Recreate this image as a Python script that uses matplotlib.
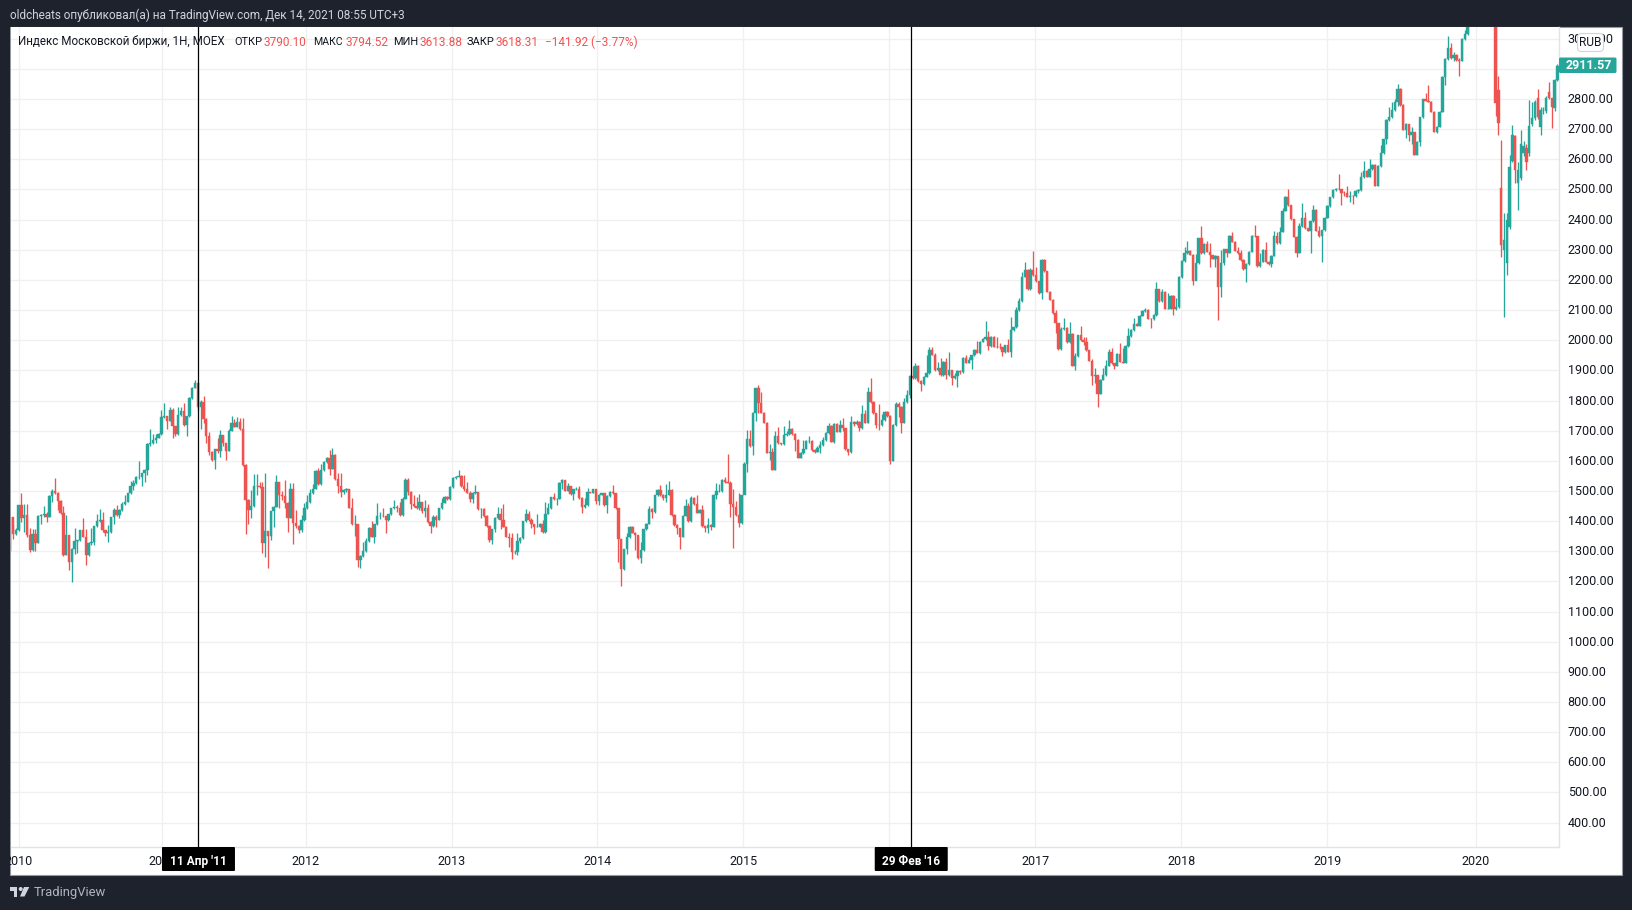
#!/usr/bin/env python3
"""Moscow Exchange index candles, weekly, copied off a TradingView snapshot."""

import matplotlib

matplotlib.use("Agg")

import matplotlib.pyplot as plt
import numpy as np
from matplotlib.patches import Circle, FancyBboxPatch, Polygon, Rectangle
from matplotlib.transforms import Affine2D, ScaledTranslation

WIDTH, HEIGHT = 1633, 910

CLOSES = [
    1414, 1357, 1370, 1453, 1411, 1420, 1354, 1304, 1357, 1326,
    1417, 1420, 1423, 1414, 1483, 1500, 1492, 1467, 1427, 1287,
    1353, 1265, 1309, 1334, 1337, 1370, 1348, 1287, 1328, 1331,
    1383, 1399, 1403, 1370, 1362, 1365, 1412, 1437, 1419, 1437,
    1456, 1464, 1492, 1518, 1525, 1547, 1547, 1558, 1569, 1655,
    1658, 1669, 1677, 1689, 1746, 1748, 1733, 1768, 1715, 1689,
    1752, 1765, 1718, 1748, 1808, 1843, 1857, 1779, 1794, 1739,
    1682, 1630, 1602, 1638, 1633, 1684, 1660, 1634, 1700, 1724, 1713,
    1728, 1704, 1586, 1470, 1436, 1450, 1516, 1518, 1514, 1328,
    1366, 1351, 1433, 1448, 1529, 1486, 1483, 1459, 1411, 1505,
    1394, 1384, 1372, 1403, 1443, 1465, 1492, 1508, 1566, 1523,
    1569, 1596, 1609, 1574, 1620, 1539, 1516, 1497, 1503, 1507,
    1445, 1390, 1392, 1271, 1284, 1301, 1333, 1378, 1348, 1390,
    1417, 1418, 1416, 1403, 1423, 1442, 1446, 1442, 1420, 1475,
    1536, 1497, 1456, 1450, 1443, 1463, 1434, 1443, 1397, 1384,
    1413, 1405, 1442, 1461, 1479, 1473, 1513, 1543, 1547, 1549,
    1518, 1505, 1494, 1472, 1494, 1496, 1440, 1440, 1417, 1384,
    1336, 1373, 1410, 1425, 1403, 1381, 1348, 1345, 1297, 1299,
    1334, 1344, 1399, 1423, 1403, 1390, 1381, 1381, 1392, 1363,
    1425, 1443, 1479, 1472, 1475, 1525, 1537, 1501, 1516, 1489,
    1505, 1505, 1477, 1447, 1452, 1496, 1494, 1505, 1467, 1487,
    1492, 1453, 1483, 1497, 1492, 1444, 1340, 1241, 1306, 1346,
    1381, 1362, 1354, 1277, 1304, 1373, 1392, 1441, 1430, 1486,
    1503, 1486, 1477, 1488, 1503, 1420, 1387, 1376, 1348, 1418,
    1450, 1400, 1477, 1456, 1428, 1437, 1383, 1378, 1386, 1381,
    1488, 1499, 1500, 1538, 1529, 1527, 1456, 1447, 1419, 1394,
    1485, 1591, 1672, 1649, 1757, 1841, 1792, 1759, 1726, 1627,
    1630, 1570, 1682, 1658, 1655, 1685, 1688, 1707, 1689, 1669,
    1610, 1625, 1640, 1665, 1666, 1636, 1630, 1642, 1653,
    1669, 1691, 1716, 1664, 1722, 1697, 1719, 1708, 1638, 1630,
    1729, 1722, 1730, 1708, 1755, 1727, 1828, 1795, 1758, 1719,
    1718, 1735, 1762, 1749, 1600, 1719, 1789, 1780, 1727, 1795,
    1817, 1881, 1874, 1916, 1865, 1855, 1879, 1891, 1968, 1952,
    1901, 1907, 1885, 1929, 1885, 1900, 1874, 1880, 1898, 1895,
    1941, 1926, 1935, 1950, 1968, 1959, 1995, 2004, 2010, 1981,
    2012, 1979, 1978, 1976, 1960, 1983, 1962, 2034, 2043, 2100,
    2129, 2211, 2233, 2170, 2233, 2215, 2195, 2156, 2266, 2228,
    2161, 2134, 2089, 2056, 1970, 2038, 2041, 1994, 2021, 1915,
    1948, 2016, 2001, 1995, 1966, 1932, 1882, 1885, 1822, 1869,
    1885, 1915, 1962, 1924, 1915, 1955, 1929, 1926, 1981, 2014,
    2034, 2054, 2048, 2081, 2096, 2100, 2072, 2070, 2084, 2169,
    2130, 2161, 2104, 2105, 2147, 2103, 2110, 2210, 2263, 2288,
    2296, 2284, 2198, 2255, 2338, 2288, 2319, 2294, 2282, 2271,
    2281, 2175, 2255, 2301, 2290, 2346, 2327, 2297, 2290, 2266,
    2235, 2253, 2294, 2346, 2345, 2246, 2261, 2299, 2260, 2253,
    2281, 2346, 2321, 2360, 2430, 2476, 2448, 2401, 2343, 2290,
    2379, 2404, 2371, 2363, 2395, 2432, 2363, 2346, 2365, 2407,
    2445, 2474, 2498, 2503, 2501, 2489, 2487, 2476, 2480, 2478,
    2495, 2498, 2540, 2561, 2542, 2567, 2582, 2512, 2578, 2620,
    2666, 2730, 2739, 2763, 2790, 2835, 2780, 2699, 2717, 2680,
    2690, 2615, 2658, 2739, 2799, 2794, 2791, 2758, 2692, 2708,
    2758, 2874, 2933, 2971, 2935, 2945, 2929, 2927, 2999, 3016,
    3070, 3060, 3100, 3090, 3130, 3080, 3120, 3160, 3190, 3100,
    2786, 2719, 2316, 2332, 2399, 2575, 2680, 2564, 2564, 2651,
    2644, 2592, 2710, 2736, 2790, 2741, 2763, 2764, 2802, 2802,
    2772, 2863, 2911,
]
HIGHS = [
    1414, 1387, 1376, 1455, 1492, 1456, 1456, 1376, 1373, 1373,
    1420, 1422, 1450, 1430, 1488, 1505, 1543, 1496, 1470, 1450,
    1420, 1353, 1312, 1378, 1339, 1372, 1409, 1373, 1330, 1378,
    1385, 1425, 1440, 1429, 1372, 1387, 1414, 1445, 1453, 1439,
    1463, 1486, 1494, 1534, 1538, 1549, 1599, 1560, 1572, 1658,
    1705, 1689, 1689, 1691, 1768, 1792, 1750, 1779, 1775, 1717,
    1779, 1779, 1792, 1750, 1812, 1845, 1868, 1863, 1801, 1815,
    1741, 1695, 1632, 1640, 1677, 1702, 1686, 1648, 1707, 1748, 1740,
    1746, 1743, 1741, 1590, 1473, 1503, 1556, 1556, 1530, 1530,
    1560, 1366, 1435, 1450, 1553, 1531, 1500, 1536, 1463, 1527,
    1525, 1436, 1386, 1420, 1459, 1486, 1508, 1523, 1568, 1575,
    1591, 1598, 1612, 1635, 1642, 1622, 1558, 1558, 1505, 1510,
    1505, 1476, 1420, 1392, 1286, 1331, 1343, 1380, 1400, 1392,
    1459, 1430, 1445, 1418, 1425, 1444, 1470, 1455, 1464, 1480,
    1543, 1543, 1500, 1486, 1481, 1490, 1465, 1470, 1456, 1400,
    1420, 1420, 1444, 1478, 1483, 1482, 1518, 1545, 1549, 1569,
    1552, 1552, 1530, 1500, 1496, 1519, 1498, 1445, 1442, 1419,
    1386, 1375, 1412, 1447, 1442, 1456, 1383, 1359, 1359, 1304,
    1359, 1346, 1401, 1440, 1434, 1411, 1392, 1425, 1394, 1403,
    1464, 1459, 1481, 1492, 1477, 1530, 1540, 1538, 1525, 1518,
    1507, 1512, 1516, 1480, 1478, 1510, 1498, 1507, 1507, 1489,
    1494, 1494, 1485, 1499, 1519, 1494, 1439, 1340, 1308, 1359,
    1383, 1383, 1364, 1350, 1331, 1375, 1394, 1451, 1443, 1488,
    1505, 1519, 1490, 1523, 1534, 1505, 1422, 1389, 1378, 1420,
    1472, 1459, 1483, 1479, 1486, 1439, 1452, 1385, 1409, 1389,
    1490, 1527, 1523, 1541, 1547, 1624, 1534, 1505, 1467, 1492,
    1487, 1596, 1702, 1702, 1763, 1843, 1851, 1829, 1761, 1728,
    1655, 1641, 1698, 1711, 1660, 1715, 1700, 1735, 1709, 1691,
    1671, 1630, 1668, 1670, 1682, 1668, 1640, 1650, 1665,
    1680, 1695, 1726, 1718, 1727, 1724, 1736, 1741, 1710, 1640,
    1749, 1732, 1736, 1732, 1785, 1769, 1846, 1875, 1797, 1760,
    1789, 1755, 1764, 1765, 1751, 1721, 1796, 1796, 1782, 1807,
    1835, 1885, 1913, 1926, 1918, 1867, 1882, 1951, 1979, 1977,
    1959, 1929, 1940, 1931, 1940, 1960, 1902, 1890, 1900, 1902,
    1943, 1952, 1945, 1952, 1970, 1999, 1999, 2006, 2064, 2029,
    2014, 2013, 2010, 1990, 1978, 1985, 2003, 2076, 2045, 2109,
    2139, 2225, 2260, 2236, 2239, 2296, 2244, 2197, 2268, 2268,
    2230, 2163, 2136, 2100, 2058, 2045, 2073, 2043, 2061, 2023,
    1957, 2018, 2048, 2010, 2012, 1968, 1938, 1907, 1885, 1871,
    1907, 1935, 1972, 1973, 1926, 1957, 1990, 1973, 1983, 2040,
    2036, 2073, 2056, 2084, 2100, 2106, 2102, 2074, 2086, 2193,
    2167, 2169, 2163, 2156, 2149, 2149, 2140, 2212, 2265, 2308,
    2328, 2300, 2286, 2286, 2340, 2379, 2321, 2330, 2321, 2284,
    2283, 2275, 2299, 2303, 2303, 2348, 2358, 2330, 2310, 2300,
    2268, 2255, 2296, 2348, 2382, 2347, 2290, 2301, 2327, 2262,
    2283, 2363, 2360, 2377, 2437, 2478, 2501, 2450, 2403, 2345,
    2390, 2454, 2426, 2373, 2397, 2450, 2434, 2379, 2367, 2409,
    2447, 2476, 2502, 2506, 2553, 2503, 2495, 2510, 2495, 2482,
    2497, 2500, 2559, 2593, 2564, 2600, 2584, 2584, 2580, 2647,
    2668, 2734, 2772, 2791, 2800, 2849, 2837, 2782, 2719, 2710,
    2706, 2692, 2660, 2741, 2801, 2819, 2846, 2793, 2760, 2710,
    2760, 2876, 2935, 3009, 2985, 2955, 2950, 2935, 3001, 3029,
    3090, 3085, 3120, 3110, 3150, 3140, 3140, 3180, 3210, 3200,
    3110, 2876, 2664, 2421, 2421, 2614, 2714, 2680, 2590, 2699,
    2660, 2652, 2797, 2790, 2797, 2835, 2775, 2775, 2810, 2857,
    2805, 2865, 2915,
]
LOWS = [
    1302, 1341, 1355, 1368, 1397, 1365, 1348, 1298, 1300, 1302,
    1326, 1392, 1415, 1397, 1412, 1464, 1490, 1436, 1425, 1284,
    1287, 1237, 1199, 1290, 1293, 1335, 1346, 1254, 1285, 1320,
    1322, 1380, 1397, 1364, 1352, 1331, 1362, 1392, 1417, 1409,
    1434, 1454, 1462, 1490, 1503, 1523, 1540, 1516, 1530, 1553,
    1650, 1656, 1660, 1675, 1686, 1742, 1705, 1731, 1676, 1682,
    1685, 1750, 1716, 1682, 1746, 1806, 1841, 1770, 1707, 1726,
    1660, 1620, 1600, 1574, 1625, 1613, 1650, 1602, 1632, 1698, 1711,
    1711, 1702, 1584, 1357, 1392, 1409, 1448, 1486, 1510, 1293,
    1282, 1245, 1337, 1381, 1446, 1442, 1470, 1442, 1365, 1409,
    1324, 1376, 1361, 1365, 1400, 1441, 1460, 1490, 1506, 1521,
    1521, 1567, 1594, 1552, 1572, 1537, 1492, 1480, 1490, 1498,
    1442, 1387, 1350, 1249, 1245, 1282, 1299, 1331, 1346, 1328,
    1388, 1408, 1414, 1359, 1401, 1421, 1440, 1430, 1418, 1418,
    1473, 1486, 1440, 1448, 1441, 1436, 1428, 1415, 1395, 1361,
    1382, 1381, 1403, 1440, 1459, 1470, 1471, 1511, 1541, 1545,
    1512, 1500, 1492, 1464, 1459, 1490, 1438, 1411, 1415, 1382,
    1331, 1324, 1365, 1408, 1375, 1379, 1346, 1315, 1274, 1290,
    1287, 1326, 1342, 1397, 1401, 1376, 1356, 1379, 1379, 1359,
    1361, 1423, 1441, 1470, 1453, 1473, 1505, 1499, 1500, 1487,
    1470, 1503, 1475, 1427, 1445, 1449, 1492, 1492, 1456, 1453,
    1485, 1451, 1428, 1480, 1490, 1440, 1265, 1184, 1239, 1290,
    1344, 1360, 1304, 1275, 1262, 1302, 1371, 1390, 1409, 1428,
    1484, 1484, 1470, 1464, 1486, 1418, 1385, 1357, 1307, 1346,
    1416, 1398, 1398, 1454, 1426, 1426, 1381, 1364, 1359, 1370,
    1379, 1475, 1497, 1498, 1527, 1525, 1414, 1312, 1417, 1381,
    1392, 1490, 1563, 1647, 1619, 1732, 1757, 1757, 1724, 1625,
    1602, 1568, 1568, 1656, 1653, 1653, 1683, 1686, 1687, 1633,
    1608, 1608, 1622, 1638, 1660, 1634, 1625, 1628, 1625,
    1650, 1666, 1689, 1662, 1660, 1695, 1695, 1700, 1636, 1620,
    1625, 1715, 1718, 1698, 1705, 1725, 1725, 1793, 1756, 1708,
    1703, 1716, 1733, 1745, 1591, 1598, 1717, 1747, 1691, 1725,
    1793, 1809, 1872, 1872, 1863, 1830, 1853, 1877, 1889, 1950,
    1899, 1899, 1883, 1883, 1871, 1883, 1852, 1870, 1846, 1887,
    1890, 1924, 1924, 1905, 1948, 1957, 1955, 1993, 2000, 1968,
    1979, 1977, 1975, 1970, 1949, 1958, 1960, 1943, 2032, 2041,
    2098, 2127, 2209, 2168, 2168, 2213, 2193, 2154, 2138, 2226,
    2159, 2132, 2087, 2025, 1968, 1968, 2035, 1992, 1990, 1913,
    1901, 1946, 1999, 1985, 1964, 1930, 1852, 1857, 1777, 1820,
    1867, 1883, 1913, 1922, 1905, 1913, 1927, 1924, 1924, 1979,
    2012, 2032, 2046, 2046, 2079, 2094, 2070, 2042, 2068, 2082,
    2128, 2128, 2102, 2103, 2103, 2084, 2100, 2108, 2208, 2261,
    2286, 2282, 2183, 2200, 2253, 2286, 2286, 2292, 2244, 2269,
    2244, 2067, 2144, 2250, 2277, 2288, 2325, 2295, 2287, 2264,
    2233, 2194, 2251, 2292, 2343, 2244, 2244, 2259, 2258, 2251,
    2244, 2279, 2319, 2319, 2358, 2428, 2446, 2399, 2341, 2277,
    2288, 2377, 2369, 2361, 2288, 2393, 2361, 2344, 2260, 2363,
    2405, 2443, 2472, 2496, 2499, 2448, 2480, 2474, 2460, 2452,
    2476, 2490, 2496, 2538, 2540, 2540, 2565, 2510, 2510, 2576,
    2618, 2650, 2728, 2737, 2761, 2776, 2778, 2697, 2670, 2660,
    2650, 2613, 2613, 2645, 2737, 2792, 2789, 2756, 2690, 2688,
    2706, 2756, 2846, 2931, 2933, 2925, 2927, 2876, 2925, 2997,
    3014, 3045, 3060, 3070, 3085, 3070, 3075, 3115, 3140, 3090,
    2745, 2680, 2277, 2078, 2216, 2370, 2590, 2520, 2432, 2530,
    2610, 2565, 2610, 2710, 2730, 2735, 2680, 2750, 2755, 2800,
    2705, 2760, 2860,
]
# the weeks around the 2020 gap open away from the previous close
FIRST_OPEN = 1302
LAST_OPENS = [
    3100, 2830, 2504, 2299, 2255, 2376, 2595, 2677, 2522, 2537,
    2620, 2637, 2620, 2717, 2736, 2805, 2706, 2763, 2761, 2825,
    2802, 2770, 2863,
]
FIRST_INDEX = -3  # three December 2009 candles sit left of the 2010 tick

YEARS = [2010, 2011, 2012, 2013, 2014, 2015, 2016, 2017, 2018, 2019, 2020]
YEAR_WEEKS = [0, 51.2, 102.4, 154.6, 206.4, 258.5, 310.6, 362.7, 414.8, 467, 520]
PRICE_TICKS = list(range(400, 3100, 100))
CROSSHAIRS = [(64.2, "11 Апр '11"), (318.5, "29 Фев '16")]
LAST_PRICE = 2911.57

HEADER = "oldcheats опубликовал(а) на TradingView.com, Дек 14, 2021 08:55 UTC+3"
# x pixel, text, colour, size
LEGEND_PARTS = [
    (18, "Индекс Московской биржи, 1H, MOEX", "#131722", 8.4),
    (234, "ОТКР", "#131722", 7.9),
    (264, "3790.10", "#ef5350", 8.5),
    (313, "МАКС", "#131722", 7.6),
    (346, "3794.52", "#ef5350", 8.5),
    (393, "МИН", "#131722", 7.9),
    (420, "3613.88", "#ef5350", 8.5),
    (467, "ЗАКР", "#131722", 7.9),
    (496, "3618.31", "#ef5350", 8.5),
    (545, "−141.92 (−3.77%)", "#ef5350", 8.45),
]

GREEN = "#26a69a"
RED = "#ef5350"
DARK = "#1e222d"
GRID = "#f0f0f1"
AXIS_LINE = "#e0e3eb"
TEXT = "#131722"

plt.rcParams["font.family"] = ["Roboto", "DejaVu Sans"]


def main():
    closes = np.array(CLOSES, dtype=float)
    highs = np.array(HIGHS, dtype=float)
    lows = np.array(LOWS, dtype=float)
    opens = np.r_[FIRST_OPEN, closes[:-1]]
    opens[-len(LAST_OPENS):] = LAST_OPENS
    index = np.arange(len(closes)) + FIRST_INDEX
    colors = [GREEN if c >= o else RED for o, c in zip(opens, closes)]

    fig = plt.figure(figsize=(WIDTH / 100, HEIGHT / 100), dpi=100, facecolor=DARK)
    # screen pixels, y going down, for everything around the plot
    px = Affine2D().scale(1 / WIDTH, -1 / HEIGHT).translate(0, 1) + fig.transFigure

    fig.add_artist(Rectangle((10.5, 26.5), 1611.5, 848.5, transform=px, facecolor="white",
                             edgecolor="#9598a1", linewidth=0.8, zorder=-1))

    ax = fig.add_axes([11 / WIDTH, 1 - 847 / HEIGHT, 1548 / WIDTH, 820 / HEIGHT])
    ax.set_xlim(-2.68, 549.6)
    ax.set_ylim(319, 3039)
    for side in ("left", "top"):
        ax.spines[side].set_visible(False)
    for side in ("right", "bottom"):
        ax.spines[side].set_color(AXIS_LINE)
        ax.spines[side].set_linewidth(1)

    ax.grid(True, color=GRID, linewidth=1)
    ax.set_axisbelow(True)
    ax.yaxis.tick_right()
    ax.set_yticks(PRICE_TICKS)
    ax.set_yticklabels([f"{p:.2f}" for p in PRICE_TICKS])
    ax.set_xticks(YEAR_WEEKS)
    ax.set_xticklabels([str(y) for y in YEARS])
    ax.tick_params(axis="both", length=0, labelsize=9, labelcolor=TEXT)
    ax.tick_params(axis="y", pad=6.3)
    ax.tick_params(axis="x", pad=6)
    up_one_px = ScaledTranslation(0, 1 / 100, fig.dpi_scale_trans)
    for label in ax.get_yticklabels():
        label.set_transform(label.get_transform() + up_one_px)

    ax.vlines(index, lows, highs, colors=colors, linewidth=0.95, zorder=3)
    ax.bar(index, closes - opens, bottom=opens, width=0.85, color=colors,
           edgecolor=colors, linewidth=0.3, zorder=4)

    fig.canvas.draw()
    for x, label in CROSSHAIRS:
        ax.axvline(x, color="black", linewidth=0.9, zorder=5)
        x_px = ax.transData.transform((x, 0))[0]
        fig.add_artist(FancyBboxPatch((x_px - 36.5, 847), 73, 24, transform=px, facecolor="black",
                                      edgecolor="none", zorder=3,
                                      boxstyle="round,pad=0,rounding_size=1"))
        fig.text(x_px / WIDTH, 1 - 861.5 / HEIGHT, label, color="white", fontsize=8.6,
                 fontweight="bold", ha="center", va="center", zorder=4)

    # strip left of the plot hides the clipped part of the 2010 label
    fig.add_artist(Rectangle((0, 27), 10.5, 848, transform=px, facecolor=DARK,
                             edgecolor="none", zorder=3))

    # last price tag
    fig.add_artist(FancyBboxPatch((1559, 57.5), 57.5, 15.5, transform=px, facecolor=GREEN,
                                  edgecolor="none", zorder=4,
                                  boxstyle="round,pad=0,rounding_size=1.5"))
    fig.text(1589 / WIDTH, 1 - 65.5 / HEIGHT, f"{LAST_PRICE:.2f}", color="white", fontsize=9,
             fontweight="bold", ha="center", va="center", zorder=5)

    # currency button over the top price label
    fig.add_artist(FancyBboxPatch((1577.5, 33.5), 26, 18, transform=px, facecolor="white",
                                  edgecolor="#d1d4dc", linewidth=0.8, zorder=4,
                                  boxstyle="round,pad=0,rounding_size=4"))
    fig.text(1590.5 / WIDTH, 1 - 43 / HEIGHT, "RUB", color=TEXT, fontsize=8.6,
             ha="center", va="center", zorder=5)

    fig.text(10 / WIDTH, 1 - 15 / HEIGHT, HEADER, color="#d1d4dc", fontsize=8.45,
             ha="left", va="center")
    for x, label, color, size in LEGEND_PARTS:
        fig.text(x / WIDTH, 1 - 42 / HEIGHT, label, color=color, fontsize=size,
                 ha="left", va="center", zorder=5)

    # TradingView mark and name
    logo = "#d1d4dc"
    fig.add_artist(Polygon([(10, 887), (17.5, 887), (17.5, 896.5), (14, 896.5), (14, 891), (10, 891)],
                           transform=px, facecolor=logo, edgecolor="none"))
    fig.add_artist(Circle((20.7, 889), 2, transform=px, facecolor=logo, edgecolor="none"))
    fig.add_artist(Polygon([(24, 887), (29.3, 887), (24.5, 896.5), (20, 896.5)],
                           transform=px, facecolor=logo, edgecolor="none"))
    fig.text(33.5 / WIDTH, 1 - 892.5 / HEIGHT, "TradingView", color="#b2b5be", fontsize=9.4,
             ha="left", va="center")

    fig.savefig("out.png", dpi=100, facecolor=DARK)


if __name__ == "__main__":
    main()
